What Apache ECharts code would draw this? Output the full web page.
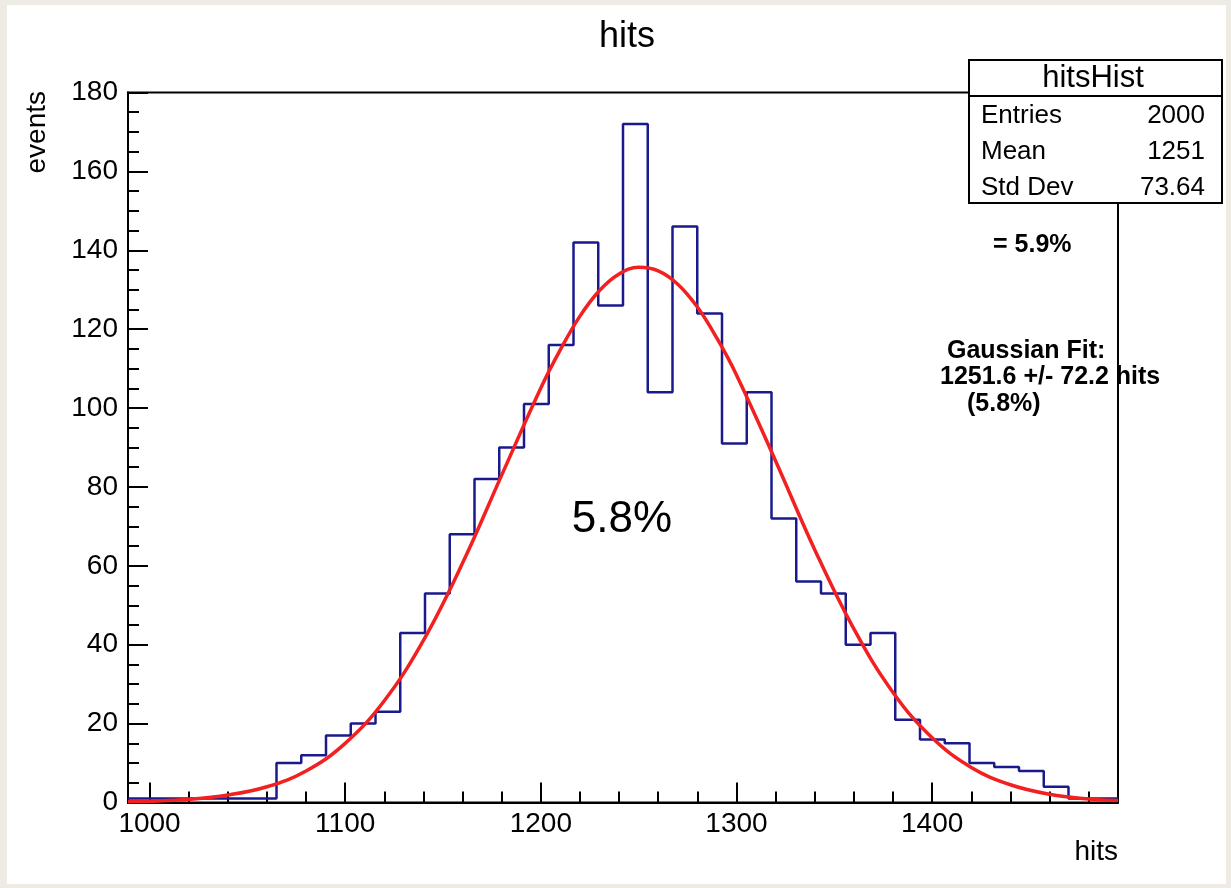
<!DOCTYPE html>
<html>
<head>
<meta charset="utf-8">
<title>hits</title>
<script src="https://cdn.jsdelivr.net/npm/echarts@6/dist/echarts.min.js"></script>
<style>
  html, body { margin: 0; padding: 0; background: #eeeae4; }
  #paper { position: absolute; left: 7px; top: 5px; width: 1219px; height: 879px; background: #fff; }
  #main { position: absolute; left: 0; top: 0; width: 1231px; height: 888px; }
</style>
</head>
<body>
<div id="paper"></div>
<div id="main"></div>
<script>
// histogram binning (40 bins)
var histMin = 989;
var histMax = 1495;
var nBins = 40;
// bin contents, left to right
var binCounts = [1, 1, 1, 1, 1, 1, 10, 12, 17, 20,
                 23, 43, 53, 68, 82, 90, 101, 116, 142, 126,
                 172, 104, 146, 124, 91, 104, 72, 56, 53, 40,
                 43, 21, 16, 15, 10, 9, 8, 4, 1, 1];
// gaussian fit curve, sampled off the plot
var fitX = [989, 1000, 1020, 1040, 1060, 1080, 1100, 1120, 1140, 1160, 1180, 1200, 1210, 1220, 1230,
            1240, 1250, 1260, 1270, 1280, 1290, 1300, 1320, 1340, 1360, 1380, 1400, 1420, 1440, 1460, 1480, 1495];
var fitY = [0.2, 0.3, 0.8, 1.9, 4.0, 8.0, 15.0, 25.8, 41.1, 60.7, 83.0, 105.1, 114.8, 123.3, 129.8,
            134.0, 135.7, 134.8, 131.4, 125.6, 117.7, 108.4, 86.6, 64.1, 44.0, 27.9, 16.4, 8.9, 4.5, 2.1, 0.9, 0.5];
// axis ticks
var xMajorTicks = [1000, 1100, 1200, 1300, 1400];
var xMinorTicks = [1020, 1040, 1060, 1080, 1120, 1140, 1160, 1180, 1220, 1240, 1260, 1280,
                   1320, 1340, 1360, 1380, 1420, 1440, 1460, 1480];
// stats box
var statRows = [['Entries', '2000'], ['Mean', '1251'], ['Std Dev', '73.64']];

var FONT = '"Liberation Sans", Arial, Helvetica, sans-serif';

var binWidth = (histMax - histMin) / nBins;
var histData = [];
for (var i = 0; i < binCounts.length; i++) {
    histData.push([histMin + i * binWidth, binCounts[i]]);
}
histData.push([histMax, binCounts[binCounts.length - 1]]);

var fitData = [];
for (var j = 0; j < fitX.length; j++) {
    fitData.push([fitX[j], fitY[j]]);
}

var statEls = [
    { type: 'rect', shape: { x: 969, y: 60, width: 253, height: 143 },
      style: { fill: '#fff', stroke: '#000', lineWidth: 2 } },
    { type: 'line', shape: { x1: 969, y1: 96, x2: 1222, y2: 96 },
      style: { stroke: '#000', lineWidth: 2 } },
    { type: 'text', x: 1093, y: 78, style: { text: 'hitsHist', font: '31px ' + FONT,
      fill: '#000', align: 'center', verticalAlign: 'middle' } }
];
for (var k = 0; k < statRows.length; k++) {
    statEls.push({ type: 'text', x: 981, y: 116 + k * 36, style: { text: statRows[k][0],
        font: '26px ' + FONT, fill: '#000', align: 'left', verticalAlign: 'middle' } });
    statEls.push({ type: 'text', x: 1205, y: 116 + k * 36, style: { text: statRows[k][1],
        font: '26px ' + FONT, fill: '#000', align: 'right', verticalAlign: 'middle' } });
}

function plainNum(v) { return String(v); }

var chart = echarts.init(document.getElementById('main'));
var option = {
    backgroundColor: 'transparent',
    animation: false,
    title: {
        text: 'hits',
        left: 594,
        top: 14,
        textStyle: { fontFamily: FONT, fontSize: 36, fontWeight: 'normal', color: '#000' }
    },
    grid: {
        left: 128, right: 113, top: 92.5, bottom: 85.5,
        show: true, backgroundColor: '#fff', borderColor: '#000', borderWidth: 2
    },
    xAxis: [{
        type: 'value',
        min: histMin,
        max: histMax,
        position: 'bottom',
        axisLine: { lineStyle: { color: '#000', width: 2 } },
        axisTick: { inside: true, length: 20, customValues: xMajorTicks, lineStyle: { color: '#000', width: 2 } },
        axisLabel: { customValues: xMajorTicks, formatter: plainNum, fontFamily: FONT, fontSize: 28, color: '#000', margin: 8 },
        splitLine: { show: false }
    }, {
        type: 'value',
        min: histMin,
        max: histMax,
        position: 'bottom',
        axisLine: { show: false },
        axisTick: { inside: true, length: 11, customValues: xMinorTicks, lineStyle: { color: '#000', width: 2 } },
        axisLabel: { show: false },
        splitLine: { show: false }
    }],
    yAxis: {
        type: 'value',
        min: 0,
        max: 180,
        interval: 20,
        axisLine: { show: true, lineStyle: { color: '#000', width: 2 } },
        axisTick: { show: true, inside: true, length: 20, lineStyle: { color: '#000', width: 2 } },
        minorTick: { show: true, splitNumber: 4, length: 11, lineStyle: { color: '#000', width: 2 } },
        axisLabel: { formatter: plainNum, fontFamily: FONT, fontSize: 28, color: '#000', margin: 10 },
        splitLine: { show: false }
    },
    series: [{
        name: 'hitsHist',
        type: 'line',
        step: 'end',
        data: histData,
        symbol: 'none',
        lineStyle: { color: '#1a1a8c', width: 2.5 },
        z: 2
    }, {
        name: 'fit',
        type: 'line',
        smooth: 0.4,
        data: fitData,
        symbol: 'none',
        lineStyle: { color: '#f22020', width: 3.5 },
        z: 3
    }],
    graphic: [
        { type: 'group', z: 100, children: statEls },
        { type: 'text', x: 37, y: 91, rotation: Math.PI / 2, z: 100,
          style: { text: 'events', font: '28px ' + FONT, fill: '#000', align: 'right', verticalAlign: 'middle' } },
        { type: 'text', x: 1118, y: 852, z: 100,
          style: { text: 'hits', font: '28px ' + FONT, fill: '#000', align: 'right', verticalAlign: 'middle' } },
        { type: 'text', x: 622, y: 520, z: 100,
          style: { text: '5.8%', font: '44px ' + FONT, fill: '#000', align: 'center', verticalAlign: 'middle' } },
        { type: 'text', x: 993, y: 245, z: 100,
          style: { text: '= 5.9%', font: 'bold 25px ' + FONT, fill: '#000', align: 'left', verticalAlign: 'middle' } },
        { type: 'text', x: 947, y: 351, z: 100,
          style: { text: 'Gaussian Fit:', font: 'bold 25px ' + FONT, fill: '#000', align: 'left', verticalAlign: 'middle' } },
        { type: 'text', x: 940, y: 377, z: 100,
          style: { text: '1251.6 +/- 72.2 hits', font: 'bold 25px ' + FONT, fill: '#000', align: 'left', verticalAlign: 'middle' } },
        { type: 'text', x: 967, y: 404, z: 100,
          style: { text: '(5.8%)', font: 'bold 25px ' + FONT, fill: '#000', align: 'left', verticalAlign: 'middle' } }
    ]
};
chart.setOption(option);
</script>
</body>
</html>
